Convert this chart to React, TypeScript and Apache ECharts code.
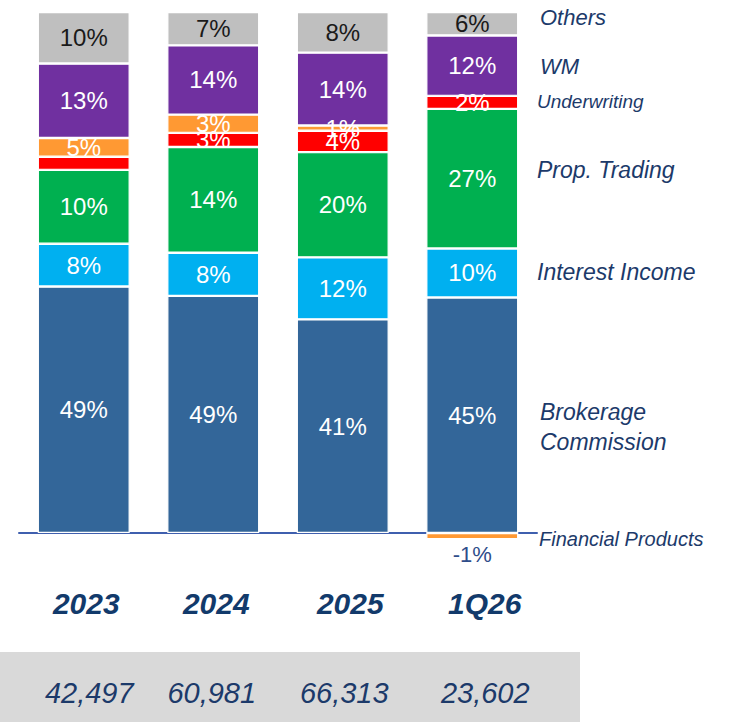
import React, { useEffect, useRef } from "react";
import * as echarts from "echarts";

const categories = ["2023", "2024", "2025", "1Q26"];
// segment heights (share of bar height, %)
const brokerage = [47.3, 45.5, 41.0, 45.2];
const interestIncome = [8.2, 8.3, 11.9, 9.4];
const propTrading = [14.2, 20.3, 20.2, 26.8];
const underwriting = [2.5, 2.7, 4.1, 2.5];
const financialProducts = [3.6, 3.5, 1.0, -1.2];
const wm = [14.3, 13.3, 14.0, 11.6];
const others = [9.9, 6.4, 7.8, 4.5];

// printed labels
const brokerageLabels = ["49%", "49%", "41%", "45%"];
const interestLabels = ["8%", "8%", "12%", "10%"];
const propLabels = ["10%", "14%", "20%", "27%"];
const underwritingLabels = ["", "3%", "4%", "2%"];
const finProdLabels = ["5%", "3%", "1%", "-1%"];
const wmLabels = ["13%", "14%", "14%", "12%"];
const othersLabels = ["10%", "7%", "8%", "6%"];

const totals = ["42,497", "60,981", "66,313", "23,602"];

const seriesNames = [
  "Brokerage Commission",
  "Interest Income",
  "Prop. Trading",
  "Underwriting",
  "Financial Products",
  "WM",
  "Others",
];
const colors = ["#336699", "#00b0f0", "#00b050", "#ff0000", "#ff9933", "#7030a0", "#bfbfbf"];

const FONT = "'Liberation Sans', Arial, sans-serif";
const NAVY = "#1c3a6a";

export default function App() {
  const ref = useRef<HTMLDivElement>(null);
  useEffect(() => {
    if (!ref.current) return;
    const chart = echarts.init(ref.current, null, { renderer: "svg" });
    const values = [brokerage, interestIncome, propTrading, underwriting, financialProducts, wm, others];
    const labels = [brokerageLabels, interestLabels, propLabels, underwritingLabels, finProdLabels, wmLabels, othersLabels];
    const catPad = [5, 6, 15, 25];
    const rich: any = {};
    catPad.forEach((p, i) => {
      rich["c" + i] = {
        fontSize: 30,
        fontWeight: "bold",
        fontStyle: "italic",
        fontFamily: FONT,
        color: "#123a6b",
        lineHeight: 30,
        padding: [0, 0, 0, p],
      };
    });
    const series = values.map((arr, si) => ({
      name: seriesNames[si],
      type: "bar",
      stack: "total",
      barWidth: 92,
      itemStyle: { color: colors[si], borderColor: "#ffffff", borderWidth: 1.2 },
      label: {
        show: true,
        position: "inside",
        fontFamily: FONT,
        fontSize: 24,
        color: si === 6 ? "#1a1a1a" : "#ffffff",
        formatter: (p: any) => labels[si][p.dataIndex],
      },
      data: arr.map((v) =>
        v < 0
          ? {
              value: v,
              label: { position: "bottom", distance: 4, color: "#2f4d8a", fontSize: 22 },
            }
          : v
      ),
    }));
    chart.setOption({
      animation: false,
      grid: { left: 19, width: 518, top: 12, bottom: 163 },
      xAxis: {
        type: "category",
        data: categories,
        axisLine: { show: true, onZero: true, lineStyle: { color: "#3f5fae", width: 2 } },
        axisTick: { show: false },
        axisLabel: {
          margin: 29,
          formatter: (v: string, i: number) => `{c${i}|${v}}`,
          rich,
        },
      },
      yAxis: {
        type: "value",
        min: -5,
        max: 100,
        show: false,
        splitLine: { show: false },
      },
      series,
    });
    const xs = categories.map((c) => chart.convertToPixel({ xAxisIndex: 0 }, c) as number);
    const totalsDx = [5.5, -1.5, 1.5, 13];
    const sideText = (text: string, y: number, size: number, id: string) => ({
      type: "text",
      id,
      x: 540,
      y,
      style: {
        text,
        fontFamily: FONT,
        fontSize: size,
        fontStyle: "italic",
        fill: NAVY,
        verticalAlign: "middle",
        align: "left",
      },
    });
    chart.setOption({
      graphic: [
        {
          type: "rect",
          id: "totBg",
          shape: { x: 0, y: 652, width: 580, height: 70 },
          style: { fill: "#d9d9d9" },
          z: -1,
        },
        ...totals.map((t, i) => ({
          type: "text",
          id: "tot" + i,
          x: xs[i] + totalsDx[i],
          y: 693,
          style: {
            text: t,
            fontFamily: FONT,
            fontSize: 29,
            fontStyle: "italic",
            fill: NAVY,
            align: "center",
            verticalAlign: "middle",
          },
        })),
        sideText("Others", 17, 22, "s0"),
        sideText("WM", 66, 22, "s1"),
        { ...sideText("Underwriting", 101, 19, "s2"), x: 537 },
        { ...sideText("Prop. Trading", 170, 23, "s3"), x: 537 },
        { ...sideText("Interest Income", 272, 23, "s4"), x: 537 },
        sideText("Brokerage", 412, 23, "s5"),
        sideText("Commission", 442, 23, "s6"),
        { ...sideText("Financial Products", 539, 20, "s7"), x: 539 },
      ],
    });
    return () => chart.dispose();
  }, []);
  return (
    <div
      ref={ref}
      style={{ position: "absolute", left: 0, top: 0, width: 731, height: 722, background: "#ffffff" }}
    />
  );
}
